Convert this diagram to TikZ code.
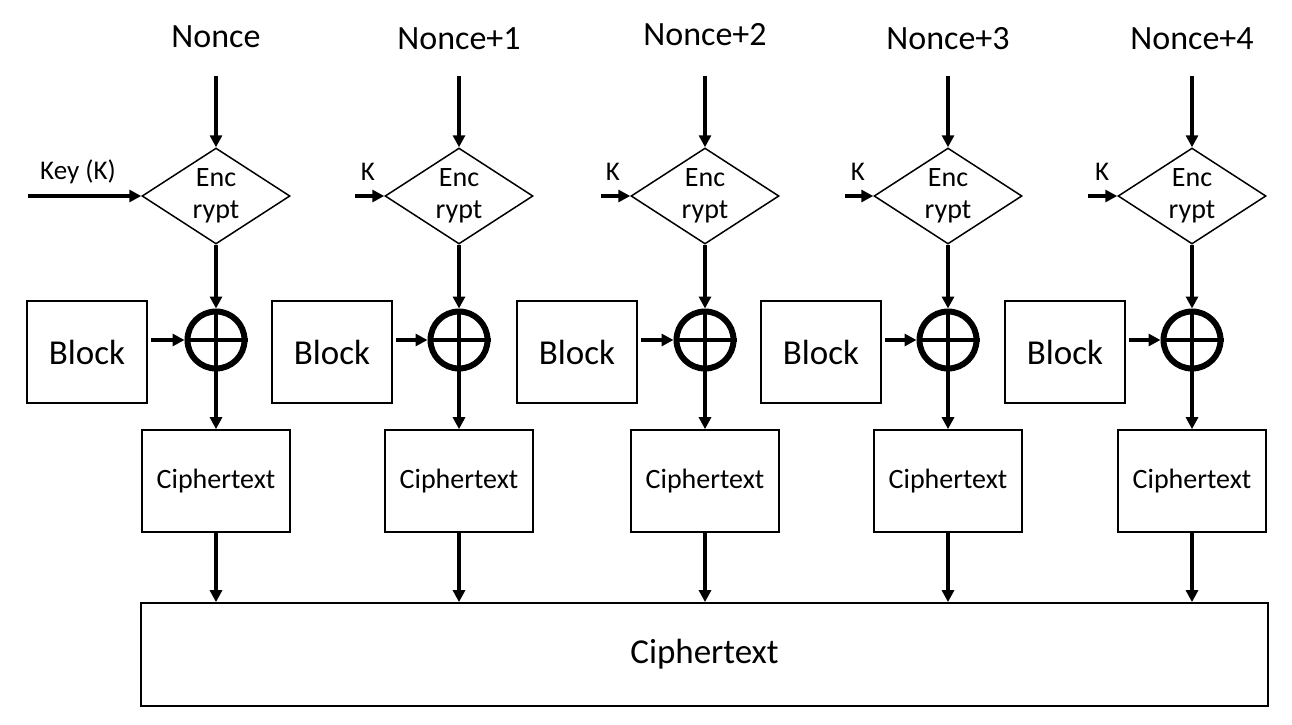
\documentclass[tikz,border=0pt]{standalone}
\usepackage{fontspec}
\setmainfont{Carlito}
\usetikzlibrary{shapes.geometric,arrows.meta}
\tikzset{
  arr/.style={line width=3.2pt,-{Triangle[length=12pt,width=12pt]}},
  encbox/.style={shape=diamond,draw,line width=1.5pt,minimum width=148pt,minimum height=96pt,aspect=1.54,inner sep=0pt,align=center,font=\fontsize{28}{32}\selectfont},
  blockbox/.style={draw,line width=1.7pt,minimum width=120pt,minimum height=102pt,inner sep=0pt,font=\fontsize{35}{38}\selectfont},
  cipherbox/.style={draw,line width=1.7pt,minimum width=148pt,minimum height=102pt,inner sep=0pt,font=\fontsize{28}{30}\selectfont},
  xorc/.style={circle,draw,line width=6pt,minimum size=57pt,inner sep=0pt},
  toplabel/.style={font=\fontsize{34}{38}\selectfont},
  klabel/.style={font=\fontsize{27}{30}\selectfont},
}
\begin{document}
\begin{tikzpicture}[x=1pt,y=-1pt]
\useasboundingbox (0,0) rectangle (1292,724);
% column data: x, nonce label, nonce y, K arrow start x, block left
\foreach \i/\cx/\lab/\ly/\ks/\bl in {1/216/Nonce/37/28/27, 2/459/Nonce+1/39/355/272, 3/705/Nonce+2/35/601/517, 4/948/Nonce+3/39/845/761, 5/1192/Nonce+4/39/1088/1005}{
  \node[toplabel] (n\i) at (\cx,\ly) {\lab};
  \node[encbox] (e\i) at (\cx,196) {Enc\\rypt};
  \node[xorc] (x\i) at (\cx,340) {};
  \draw[line width=3.4pt] (x\i.north) -- (x\i.south) (x\i.west) -- (x\i.east);
  \node[blockbox] (b\i) at (\bl+60,352) {Block};
  \node[cipherbox] (c\i) at (\cx,481) {Ciphertext};
  \coordinate (k\i) at (\ks,196);
  \coordinate (ns\i) at (\cx,76);
  \draw[arr] (ns\i) -- (e\i.north);
  \draw[arr] (k\i |- e\i.west) -- (e\i.west);
  \draw[arr] (e\i.south) -- (x\i.north);
  \draw[arr] ([xshift=3pt]b\i.east |- x\i.west) -- (x\i.west);
  \draw[arr] (x\i.south) -- (c\i.north);
}
\node[klabel] (kl1) at (78,172) {Key (K)};
\node[klabel] (kl2) at (368,172) {K};
\node[klabel] (kl3) at (613,172) {K};
\node[klabel] (kl4) at (858,172) {K};
\node[klabel] (kl5) at (1102,172) {K};
\node[draw,line width=1.8pt,minimum width=1127pt,minimum height=103pt,inner sep=0pt,font=\fontsize{35}{38}\selectfont] (big) at (704.5,654.5) {Ciphertext};
\foreach \i in {1,...,5}{
  \draw[arr] (c\i.south) -- (c\i.south |- big.north);
}
\end{tikzpicture}
\end{document}
